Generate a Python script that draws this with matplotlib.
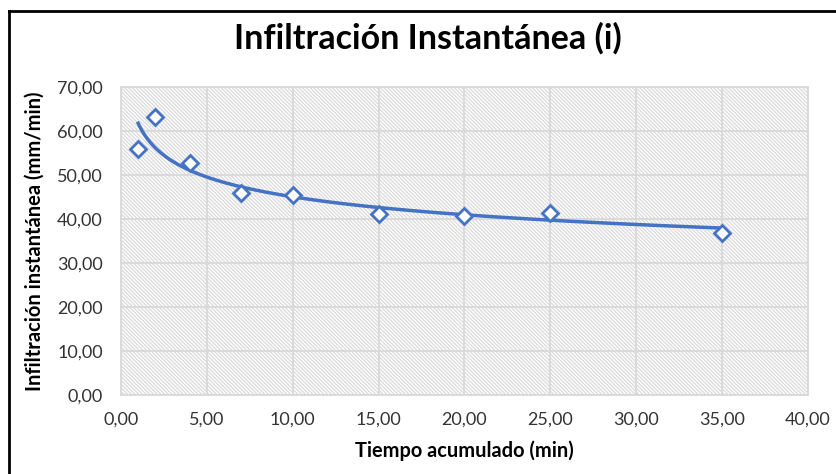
import numpy as np
import matplotlib
matplotlib.use("Agg")
import matplotlib.pyplot as plt
from matplotlib.lines import Line2D
from matplotlib.ticker import FuncFormatter

# Measured data
tiempo = [1, 2, 4, 7, 10, 15, 20, 25, 35]                       # min
infiltracion = [55.9, 63.2, 52.8, 45.9, 45.5, 41.1, 40.7, 41.4, 36.8]  # mm/min

x_ticks = [0, 5, 10, 15, 20, 25, 30, 35, 40]
y_ticks = [0, 10, 20, 30, 40, 50, 60, 70]

blue = "#4472C4"
plt.rcParams["font.family"] = ["Lato", "DejaVu Sans"]
plt.rcParams["hatch.color"] = "#dadada"
plt.rcParams["hatch.linewidth"] = 0.9

fig = plt.figure(figsize=(8.37, 4.74), dpi=100)
ax = fig.add_axes([121 / 837, 1 - 395 / 474, (808 - 121) / 837, (395 - 87) / 474])

# hatched plot background
ax.patch.set_facecolor("white")
ax.patch.set_hatch("\\" * 9)
ax.patch.set_edgecolor("#dadada")

# power trendline (least squares on logs)
b, ln_a = np.polyfit(np.log(tiempo), np.log(infiltracion), 1)
xs = np.linspace(min(tiempo), max(tiempo), 300)
ax.plot(xs, np.exp(ln_a) * xs ** b, color=blue, lw=2.5, zorder=3)

ax.plot(tiempo, infiltracion, linestyle="none", marker="D", markersize=8,
        markerfacecolor="white", markeredgecolor=blue, markeredgewidth=2, zorder=4)

ax.set_xlim(0, 40)
ax.set_ylim(0, 70)
ax.set_xticks(x_ticks)
ax.set_yticks(y_ticks)
fmt = FuncFormatter(lambda v, p: f"{v:.2f}".replace(".", ","))
ax.xaxis.set_major_formatter(fmt)
ax.yaxis.set_major_formatter(fmt)
ax.tick_params(length=0, labelsize=13, colors="#333333")
ax.tick_params(axis="y", pad=13)
ax.tick_params(axis="x", pad=12)
ax.grid(True, color="#d9d9d9", lw=1.3)
ax.set_axisbelow(True)
for s in ax.spines.values():
    s.set_color("#d9d9d9")
    s.set_linewidth(1.3)

ax.set_xlabel("Tiempo acumulado (min)", fontsize=14.4, fontweight="bold", labelpad=9)
ax.set_ylabel("Infiltración instantánea (mm/min)", fontsize=14.5, fontweight="bold", labelpad=9)

fig.text(428 / 837, 1 - 38 / 474, "Infiltración Instantánea (i)", fontsize=24.5,
         fontweight="bold", ha="center", va="center")

# outer frame (top and left edges)
fig.add_artist(Line2D([9 / 837, 1], [1 - 11 / 474] * 2, transform=fig.transFigure,
                      color="black", lw=2))
fig.add_artist(Line2D([9 / 837] * 2, [0, 1 - 11 / 474], transform=fig.transFigure,
                      color="black", lw=2))

fig.savefig("out.png", dpi=100)
